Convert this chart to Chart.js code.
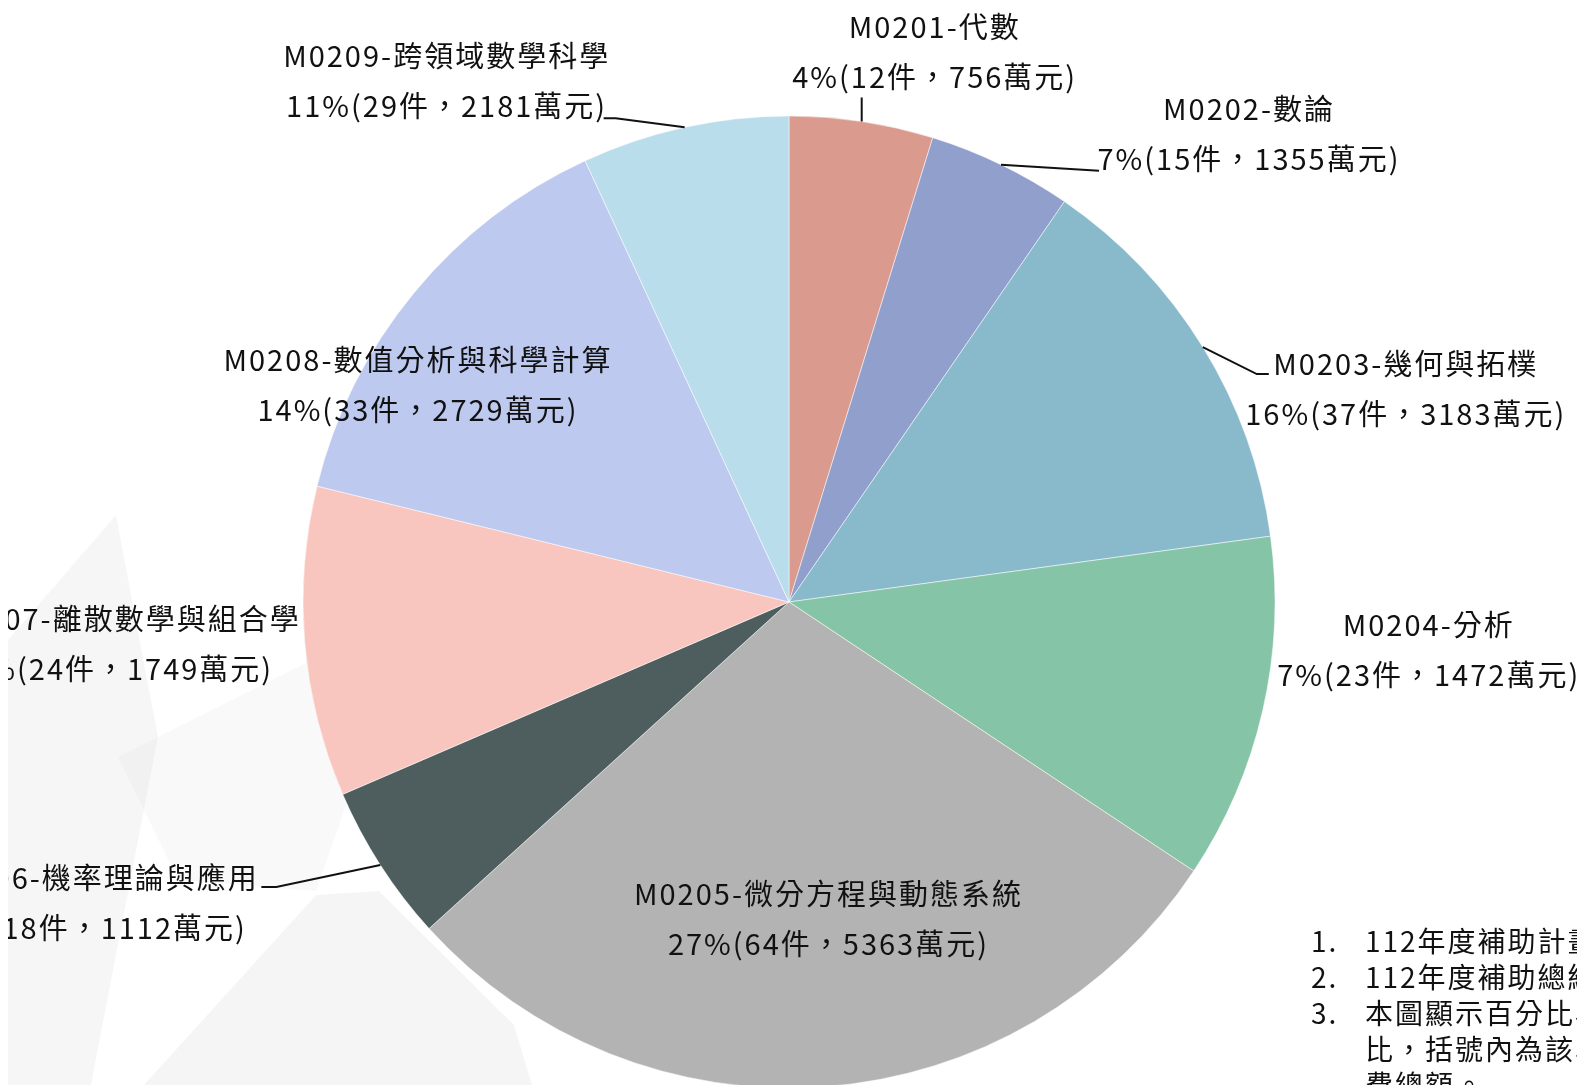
<!DOCTYPE html>
<html lang="zh-Hant-TW">
<head>
<meta charset="utf-8">
<script src="https://cdn.jsdelivr.net/npm/chart.js@4"></script>
<style>
    body { margin: 0; overflow: hidden; background: #fff; }
    #wrap { position: absolute; left: 8px; top: 0; }
</style>
</head>
<body>
<div id="wrap"><canvas id="pieChart" lang="zh-Hant-TW" width="1569" height="1204" style="width:1569px;height:1204px"></canvas></div>
<script>
// slice categories and the values
var categories = ['M0201-代數', 'M0202-數論', 'M0203-幾何與拓樸', 'M0204-分析', 'M0205-微分方程與動態系統',
    'M0206-機率理論與應用', 'M0207-離散數學與組合學', 'M0208-數值分析與科學計算', 'M0209-跨領域數學科學'];
var sliceShare = [4.78, 4.81, 13.25, 11.5, 28.94, 5.25, 10.31, 14.28, 6.89];
var percentLabels = [4, 7, 16, 7, 27, 6, 9, 14, 11];
var projectCounts = [12, 15, 37, 23, 64, 18, 24, 33, 29];
var fundsWan = [756, 1355, 3183, 1472, 5363, 1112, 1749, 2729, 2181];
var sliceColors = ['#DA9A8E', '#909FCC', '#88BACC', '#86C4A7', '#B3B3B3', '#4E5D5D', '#F8C6BE', '#BDC9EF', '#B9DDEB'];

var notes = [
    ['1.', '112年度補助計畫共255件'],
    ['2.', '112年度補助總經費共19900萬元'],
    ['3.', '本圖顯示百分比為各學門補助經費占總經費之百分'],
    ['', '比，括號內為該學門計畫件數及補助經'],
    ['', '費總額。']
];

// label placement, offset from the slice's outer mid point
var labelLayout = [
    { dx: 73, dy: -69, leader: [[0, -24]] },
    { dx: 248, dy: -31, leader: [[98, 6]] },
    { dx: 203, dy: 42, leader: [[54, 27], [66, 27]] },
    { dx: 166, dy: -61, leader: [] },
    { dx: 3, dy: -168, leader: [] },
    { dx: -285, dy: 38, leader: [[-104, 22], [-119, 22]] },
    { dx: -183, dy: 2, leader: [] },
    { dx: 4, dy: 92, leader: [] },
    { dx: -238, dy: -46, leader: [[-69, -9], [-81, -9]] }
];

var backdrop = {
    id: 'backdrop',
    beforeDraw: function (chart) {
        var ctx = chart.ctx;
        var shapes = [
            ['rgba(0,0,0,0.035)', [[108, 515], [0, 640], [0, 1204], [60, 1204], [150, 737]]],
            ['rgba(0,0,0,0.025)', [[110, 757], [300, 662], [330, 650], [340, 800], [308, 891], [170, 880]]],
            ['rgba(0,0,0,0.04)', [[28, 1204], [308, 895], [371, 891], [506, 1025], [560, 1204]]]
        ];
        ctx.save();
        shapes.forEach(function (s) {
            ctx.fillStyle = s[0];
            ctx.beginPath();
            s[1].forEach(function (pt, k) {
                if (k === 0) ctx.moveTo(pt[0], pt[1]); else ctx.lineTo(pt[0], pt[1]);
            });
            ctx.closePath();
            ctx.fill();
        });
        ctx.restore();
    }
};

var sliceLabels = {
    id: 'sliceLabels',
    afterDatasetsDraw: function (chart) {
        var ctx = chart.ctx;
        var arcs = chart.getDatasetMeta(0).data;
        ctx.save();
        ctx.font = '29px "Noto Sans CJK TC"';
        ctx.letterSpacing = '2px';
        ctx.fillStyle = '#111';
        ctx.strokeStyle = '#111';
        ctx.lineWidth = 2;
        ctx.textAlign = 'center';
        ctx.textBaseline = 'middle';
        arcs.forEach(function (arc, i) {
            var p = arc.getProps(['x', 'y', 'startAngle', 'endAngle', 'outerRadius'], true);
            var mid = (p.startAngle + p.endAngle) / 2;
            var ax = p.x + Math.cos(mid) * p.outerRadius;
            var ay = p.y + Math.sin(mid) * p.outerRadius;
            var lay = labelLayout[i];
            if (lay.leader.length) {
                ctx.beginPath();
                ctx.moveTo(ax, ay);
                lay.leader.forEach(function (pt) { ctx.lineTo(ax + pt[0], ay + pt[1]); });
                ctx.stroke();
            }
            var line2 = percentLabels[i] + '%(' + projectCounts[i] + '件，' + fundsWan[i] + '萬元)';
            ctx.fillText(categories[i], ax + lay.dx, ay + lay.dy - 25);
            ctx.fillText(line2, ax + lay.dx, ay + lay.dy + 25);
        });

        // notes at the lower right
        ctx.font = '28px "Noto Sans CJK TC"';
        ctx.textAlign = 'left';
        notes.forEach(function (n, k) {
            var y = 941 + k * 36;
            ctx.fillText(n[0], 1303, y);
            ctx.fillText(n[1], 1357, y);
        });
        ctx.restore();
    }
};

var ctx = document.getElementById('pieChart').getContext('2d');
var myChart = new Chart(ctx, {
    type: 'pie',
    data: {
        labels: categories,
        datasets: [{
            data: sliceShare,
            backgroundColor: sliceColors,
            borderColor: '#ffffff',
            borderWidth: 0.5,
            hoverOffset: 0
        }]
    },
    options: {
        responsive: false,
        animation: false,
        radius: 486,
        layout: { padding: { left: 0, right: 7, top: 0, bottom: 0 } },
        plugins: {
            legend: { display: false },
            tooltip: { enabled: false }
        }
    },
    plugins: [backdrop, sliceLabels]
});
</script>
</body>
</html>
